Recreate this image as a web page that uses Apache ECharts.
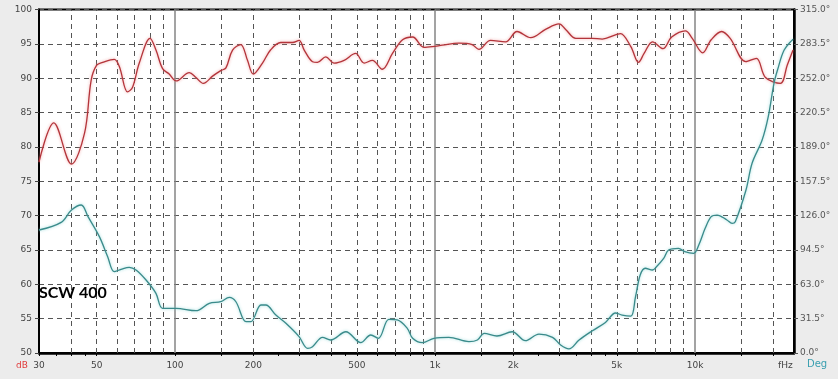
<!DOCTYPE html>
<html>
<head>
<meta charset="utf-8">
<script src="https://cdn.jsdelivr.net/npm/echarts@6/dist/echarts.min.js"></script>
<style>
html,body{margin:0;padding:0;background:#ececec;}
#c{width:838px;height:379px;}
</style>
</head>
<body>
<div id="c"></div>
<script>
// Frequency axis (Hz)
const xLabelValues = [30, 50, 100, 200, 500, 1000, 2000, 5000, 10000];
const xTickValues = [30, 35, 40, 45, 50, 100, 150, 200, 250, 300, 350, 400, 450, 500, 600, 700, 800, 900, 1000, 1500, 2000, 2500, 3000, 3500, 4000, 4500, 5000, 10000, 15000, 20000];
const xDashedGrid = [40, 50, 60, 70, 80, 90, 150, 200, 300, 400, 500, 600, 700, 800, 900, 1500, 2000, 3000, 4000, 5000, 6000, 7000, 8000, 9000, 15000, 20000];
const xSolidGrid = [100, 1000, 10000];

// SPL (dB), red curve
const splFreq = [30, 34.2, 40, 44.9, 47.6, 50, 52.7, 58.4, 61.1, 65.7, 68.7, 72.9, 80.2, 84.5, 89.6, 95, 101, 113.5, 120.4, 128.5, 139.5, 150, 157, 166.5, 179, 190, 200, 217, 233, 255, 283, 300, 314, 338, 353, 380, 409, 447, 495, 534, 574, 627, 686, 750, 820, 905, 977, 1066, 1234, 1388, 1474, 1634, 1867, 2066, 2331, 2659, 2997, 3178, 3477, 4015, 4393, 4938, 5166, 5660, 6059, 6365, 6860, 7524, 8126, 9175, 9750, 10695, 11530, 12650, 13640, 15670, 17200, 18640, 21280, 22600, 23800];
const splDb = [77.8, 83.5, 77.5, 82.0, 89.7, 91.9, 92.3, 92.75, 91.7, 88.0, 88.7, 92.2, 95.8, 94.1, 91.4, 90.6, 89.6, 90.8, 90.1, 89.25, 90.3, 91.1, 91.5, 94.1, 94.9, 92.6, 90.6, 92.2, 94.1, 95.2, 95.2, 95.5, 94.1, 92.4, 92.3, 93.1, 92.2, 92.6, 93.6, 92.2, 92.6, 91.3, 93.6, 95.6, 96.0, 94.5, 94.6, 94.8, 95.1, 94.9, 94.2, 95.5, 95.3, 96.8, 95.9, 97.1, 97.9, 97.1, 95.8, 95.8, 95.7, 96.3, 96.5, 94.6, 92.3, 93.6, 95.3, 94.3, 96.0, 96.9, 95.8, 93.7, 95.6, 96.8, 95.8, 92.4, 92.9, 90.1, 89.25, 91.9, 94.1];

// Phase (deg), teal curve
const phaseFreq = [30, 36.5, 40, 43.6, 46.3, 51.2, 55.1, 58.4, 62, 66.7, 70.8, 77.4, 84.5, 89.6, 100.9, 120.4, 135.5, 150, 161.7, 171.5, 187.6, 195.8, 214, 223.5, 244.3, 267, 300, 323.5, 338, 369, 397, 454, 518, 566, 606, 664, 716, 782, 820, 894, 990, 1130, 1350, 1455, 1545, 1730, 1980, 2225, 2510, 2830, 3040, 3270, 3580, 4015, 4520, 4940, 5240, 5660, 5900, 6150, 6430, 6860, 7100, 7570, 7910, 8630, 9130, 9870, 10330, 10930, 11530, 12140, 13250, 13875, 14270, 15670, 16560, 18100, 19110, 20100, 20740, 22000, 23800];
const phaseDeg = [112.8, 119.8, 131.1, 135.7, 125, 106.7, 88.3, 74.6, 76.7, 78.6, 76.1, 66.9, 54.7, 41, 41, 38.8, 45.6, 47, 51, 47, 28.7, 28.7, 44, 44, 34.8, 27.2, 15, 4.3, 5.8, 14.4, 11.9, 19.5, 9.5, 16.5, 13.5, 30.9, 30.3, 22.6, 13.5, 9.5, 13.5, 14.4, 10.4, 11.9, 18, 15.6, 19.5, 11.3, 17.4, 14.4, 7.3, 3.7, 11.9, 20.2, 28, 36.7, 34.8, 33.9, 51.6, 71.5, 77.7, 76.1, 79.1, 86.8, 94.5, 96, 92.9, 91.4, 99, 114.3, 125, 126.5, 122, 118.9, 120.4, 149, 174, 195.3, 216.7, 247.3, 259.5, 277.8, 287.7];

const chart = echarts.init(document.getElementById('c'), null, {renderer: 'canvas'});

function fmtHz(v) {
  if (v >= 1000) return (v / 1000) + 'k';
  return String(v);
}
const zip = (a, b) => a.map((v, i) => [v, b[i]]);

const markData = xDashedGrid.map(v => ({xAxis: v}))
  .concat(xSolidGrid.map(v => ({xAxis: v, lineStyle: {type: 'solid', color: '#858585', width: 1.5}})));

chart.setOption({
  animation: false,
  backgroundColor: '#ececec',
  grid: {left: 39, right: 44, top: 9.5, bottom: 26, show: true, backgroundColor: '#ffffff', borderColor: '#000', borderWidth: 2},
  xAxis: {
    type: 'log', logBase: 10, min: 30, max: 24000,
    axisLine: {show: true, lineStyle: {color: '#000', width: 2.5}},
    axisTick: {show: true, customValues: xTickValues, length: 3, lineStyle: {color: '#000', width: 1}},
    axisLabel: {customValues: xLabelValues, formatter: v => fmtHz(v), fontFamily: 'DejaVu Sans', fontSize: 9, color: '#444', margin: 8},
    splitLine: {show: false},
    minorTick: {show: false}
  },
  yAxis: [{
    type: 'value', min: 50, max: 100, interval: 5, position: 'left',
    axisLine: {show: true, lineStyle: {color: '#000', width: 2}},
    axisTick: {show: true, length: 4, lineStyle: {color: '#444'}},
    axisLabel: {fontFamily: 'DejaVu Sans', fontSize: 9, color: '#444', margin: 7},
    splitLine: {show: true, lineStyle: {color: '#555', width: 1, type: [5, 4]}}
  }, {
    type: 'value', min: 0, max: 315, interval: 31.5, position: 'right',
    axisLine: {show: true, lineStyle: {color: '#000', width: 2.5}},
    axisTick: {show: true, length: 4, lineStyle: {color: '#555'}},
    axisLabel: {fontFamily: 'DejaVu Sans', fontSize: 9, color: '#555', margin: 6, formatter: v => v.toFixed(1) + '°'},
    splitLine: {show: false}
  }],
  series: [{
    type: 'line', data: [], z: 1, silent: true,
    markLine: {silent: true, symbol: 'none', label: {show: false}, animation: false,
      lineStyle: {type: [5, 4], color: '#555', width: 1}, data: markData}
  }, {
    name: 'SPL', type: 'line', yAxisIndex: 0, z: 5, showSymbol: false, smooth: 0.35,
    data: zip(splFreq, splDb),
    lineStyle: {color: '#b3343a', width: 1.3, shadowColor: 'rgba(240,150,150,0.9)', shadowBlur: 3}
  }, {
    name: 'Phase', type: 'line', yAxisIndex: 1, z: 5, showSymbol: false, smooth: 0.35,
    data: zip(phaseFreq, phaseDeg),
    lineStyle: {color: '#3a8a8a', width: 1.3, shadowColor: 'rgba(140,215,215,0.9)', shadowBlur: 3}
  }],
  graphic: [
    {type: 'text', left: 39, top: 285, z: 100, style: {text: 'SCW 400', font: 'bold 16px Lato', fill: '#000'}},
    {type: 'text', left: 16, top: 361, style: {text: 'dB', font: '9px "DejaVu Sans"', fill: '#e03a3a'}},
    {type: 'text', left: 778, top: 361, style: {text: 'fHz', font: '9px "DejaVu Sans"', fill: '#444'}},
    {type: 'text', left: 807, top: 359, style: {text: 'Deg', font: '10px "DejaVu Sans"', fill: '#3a9fb0'}}
  ]
});
</script>
</body>
</html>
